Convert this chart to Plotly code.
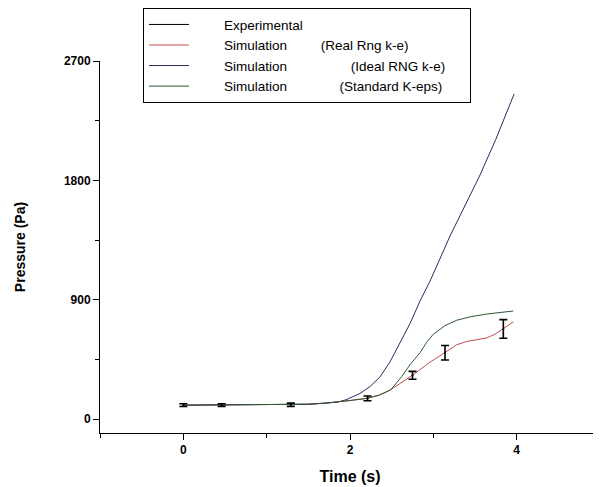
import plotly.graph_objects as go

NB = "\u00a0"

# ---- data ----
exp_t = [0.0, 0.46, 1.29, 2.21, 2.75, 3.14, 3.84]
exp_p = [105, 106, 108, 156, 330, 500, 680]
exp_err = [10, 10, 12, 18, 30, 55, 70]

real_t = [0.0, 0.5, 1.0, 1.3, 1.5, 1.7, 1.85, 2.0, 2.2, 2.35, 2.48, 2.6, 2.76, 2.94,
          3.14, 3.28, 3.4, 3.52, 3.64, 3.74, 3.84, 3.96]
real_p = [105, 106, 107, 108, 112, 120, 128, 140, 156, 180, 218, 270, 335, 420,
          505, 560, 585, 600, 612, 640, 683, 733]

ideal_t = [0.0, 0.5, 1.0, 1.3, 1.5, 1.7, 1.85, 1.95, 2.05, 2.12, 2.24, 2.36, 2.48,
           2.6, 2.72, 2.84, 2.96, 3.2, 3.56, 3.75, 3.97]
ideal_p = [105, 106, 107, 108, 112, 120, 128, 145, 170, 193, 245, 318, 431,
           570, 720, 890, 1040, 1380, 1840, 2110, 2452]

std_t = [0.0, 0.5, 1.0, 1.3, 1.5, 1.7, 1.85, 2.0, 2.2, 2.35, 2.48, 2.52, 2.62, 2.72,
         2.84, 2.92, 3.0, 3.14, 3.28, 3.45, 3.64, 3.8, 3.96]
std_p = [105, 106, 107, 108, 112, 120, 128, 140, 156, 180, 218, 243, 320, 410,
         500, 580, 640, 705, 745, 772, 792, 805, 815]

x_ticks = [0, 2, 4]
y_ticks = [0, 900, 1800, 2700]

lead = NB * 8
names = [
    lead + "Experimental",
    lead + "Simulation" + NB * 9 + "(Real Rng k-e)",
    lead + "Simulation" + NB * 17 + "(Ideal RNG k-e)",
    lead + "Simulation" + NB * 14 + "(Standard K-eps)" + NB * 6,
]

fig = go.Figure()

# legend-only line for experimental
fig.add_trace(go.Scatter(x=[None], y=[None], mode="lines", name=names[0],
                         line=dict(color="black", width=1)))
fig.add_trace(go.Scatter(x=real_t, y=real_p, mode="lines", name=names[1],
                         line=dict(color="#c94a4a", width=1)))
fig.add_trace(go.Scatter(x=ideal_t, y=ideal_p, mode="lines", name=names[2],
                         line=dict(color="#2a2a5e", width=1)))
fig.add_trace(go.Scatter(x=std_t, y=std_p, mode="lines", name=names[3],
                         line=dict(color="#2f5a35", width=1)))
# experimental points with error bars
fig.add_trace(go.Scatter(x=exp_t, y=exp_p, mode="markers", showlegend=False,
                         marker=dict(color="black", size=2),
                         error_y=dict(type="data", array=exp_err, visible=True,
                                      color="black", thickness=1.6, width=4)))

tickfont = dict(family="Liberation Sans, Arial", size=12, color="black", weight="bold")

fig.update_layout(
    width=593, height=479,
    margin=dict(l=92, r=1, t=53, b=54, autoexpand=False),
    paper_bgcolor="white", plot_bgcolor="white",
    showlegend=True,
    legend=dict(
        x=0.086, y=1.142, xanchor="left", yanchor="top",
        bordercolor="black", borderwidth=1, bgcolor="white",
        font=dict(family="Liberation Sans, Arial", size=13.5, color="black"),
        itemwidth=40, tracegroupgap=0,
    ),
    xaxis=dict(
        range=[-1, 5], tickvals=x_ticks, ticktext=[str(v) for v in x_ticks],
        showline=True, linecolor="black", linewidth=1, automargin=False,
        ticks="outside", ticklen=6, tickcolor="black", tickwidth=1,
        minor=dict(dtick=1, tick0=1, ticks="outside", ticklen=4, tickcolor="black"),
        showgrid=False, zeroline=False, tickfont=tickfont,
        title=dict(text="Time (s)", font=dict(family="Liberation Sans, Arial", size=16,
                                               color="black", weight="bold"), standoff=14),
    ),
    yaxis=dict(
        range=[-105, 2700], tickvals=y_ticks, ticktext=[str(v) for v in y_ticks],
        showline=True, linecolor="black", linewidth=1, automargin=False,
        ticks="outside", ticklen=6, tickcolor="black", tickwidth=1,
        minor=dict(dtick=450, tick0=450, ticks="outside", ticklen=4, tickcolor="black"),
        showgrid=False, zeroline=False, tickfont=tickfont,
        title=dict(text="Pressure (Pa)", font=dict(family="Liberation Sans, Arial", size=14,
                                                    color="black", weight="bold"), standoff=34),
    ),
)

fig.write_html("out.html")
